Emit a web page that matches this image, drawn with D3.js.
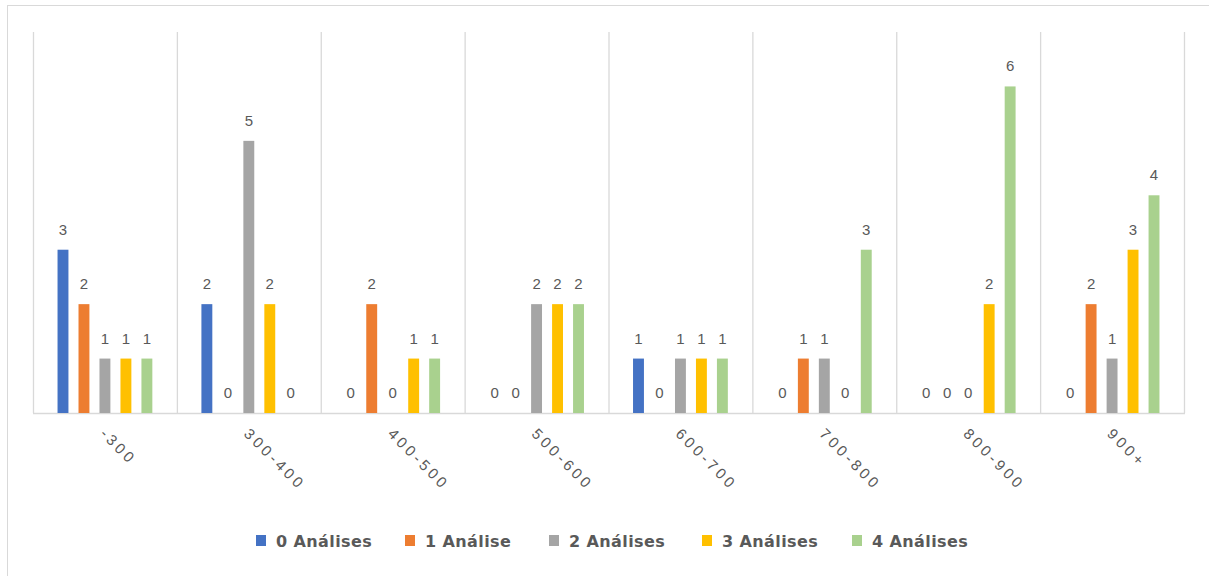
<!DOCTYPE html>
<html><head><meta charset="utf-8">
<script src="https://cdn.jsdelivr.net/npm/d3@7"></script>
<style>body{margin:0;background:#fff}svg{display:block}</style>
</head><body><svg id="c" width="1209" height="576"></svg>
<script>
const categories = ["-300","300-400","400-500","500-600","600-700","700-800","800-900","900+"];
const seriesNames = ["0 Análises","1 Análise","2 Análises","3 Análises","4 Análises"];
const colors = ["#4472C4","#ED7D31","#A5A5A5","#FFC000","#A9D18E"];
const s0 = [3,2,0,0,1,0,0,0];
const s1 = [2,0,2,0,0,1,0,2];
const s2 = [1,5,0,2,1,1,0,1];
const s3 = [1,2,1,2,1,0,2,3];
const s4 = [1,0,1,2,1,3,6,4];
const seriesValues = [s0,s1,s2,s3,s4];

(function(){
const svg = d3.select("#c");
const font = "'Liberation Sans', Arial, sans-serif";
const txt = "#595959";
svg.append("rect").attr("x",7.5).attr("y",5.5).attr("width",1220).attr("height",600)
  .attr("fill","none").attr("stroke","#d9d9d9");

const pLeft=33, pRight=1184, pTop=32, base=413;
const x0 = d3.scaleBand().domain(categories).range([pLeft,pRight]).padding(0);
const x1 = d3.scaleBand().domain(d3.range(5)).range([19.5, x0.bandwidth()-19.5]).paddingInner(0.48).paddingOuter(0.24);
const y = d3.scaleLinear().domain([0,7]).range([base,pTop]);

const gx = categories.map(c=>x0(c)).concat([pRight]);
svg.append("g").selectAll("line").data(gx).join("line")
  .attr("x1",d=>d+0.5).attr("x2",d=>d+0.5).attr("y1",pTop).attr("y2",base)
  .attr("stroke","#d9d9d9").attr("stroke-width",1.3);
svg.append("line").attr("x1",pLeft).attr("x2",pRight+1).attr("y1",base+0.5).attr("y2",base+0.5)
  .attr("stroke","#d9d9d9").attr("stroke-width",1.3);

const groups = svg.append("g").selectAll("g").data(categories).join("g")
  .attr("transform",c=>`translate(${x0(c)},0)`);
groups.each(function(c,ci){
  const g = d3.select(this);
  seriesValues.forEach((vals,si)=>{
    const v = vals[ci];
    if(v>0) g.append("rect").attr("x",x1(si)).attr("width",x1.bandwidth())
      .attr("y",y(v)).attr("height",base-y(v)).attr("fill",colors[si]);
    g.append("text").attr("x",x1(si)+x1.bandwidth()/2).attr("y",y(v)-15)
      .attr("text-anchor","middle").attr("font-family",font).attr("font-size",15)
      .attr("fill",txt).text(v);
  });
});

svg.append("g").selectAll("text").data(categories).join("text")
  .attr("transform",c=>`translate(${x0(c)+x0.bandwidth()/2-3},${base+19}) rotate(45)`)
  .attr("font-family",font).attr("font-size",15).attr("letter-spacing",3.5).attr("fill",txt)
  .attr("dominant-baseline","middle").text(c=>c);

const legendX = [256,405,549,702,852];
const lg = svg.append("g").selectAll("g").data(seriesNames).join("g")
  .attr("transform",(d,i)=>`translate(${legendX[i]},535)`);
lg.append("rect").attr("x",0).attr("y",0).attr("width",10).attr("height",11).attr("fill",(d,i)=>colors[i]);
lg.append("text").attr("x",20).attr("y",11.5).attr("font-family","'DejaVu Sans', sans-serif").attr("font-size",16)
  .attr("letter-spacing",0.4).attr("font-weight","bold").attr("fill",txt).text(d=>d);
})();
</script></body></html>
